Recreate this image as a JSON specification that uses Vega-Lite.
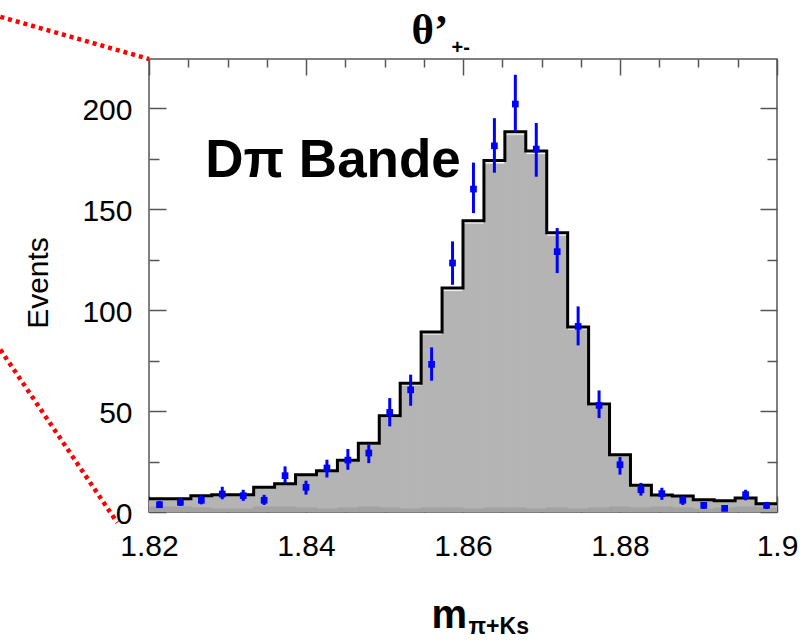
{
  "$schema": "https://vega.github.io/schema/vega-lite/v6.json",
  "width": 628,
  "height": 453,
  "autosize": {"type": "none"},
  "padding": {"left": 149, "top": 59, "right": 24, "bottom": 131},
  "background": "white",
  "config": {
    "view": {"stroke": "#555555", "strokeWidth": 1.5},
    "axis": {"tickColor": "#555555", "tickWidth": 1.5, "domain": false, "grid": false, "labelFont": "Liberation Sans", "titleFont": "Liberation Sans", "labelColor": "black", "titleColor": "black", "labelOverlap": false, "labelFlush": false}
  },
  "datasets": {
    "bins": [
      {"lo": 1.82, "hi": 1.822667, "c": 1.821333, "tot": 6.6, "fill": 6.0, "bkg": 2.5, "obs": 3.6, "elo": 2.0, "ehi": 5.5},
      {"lo": 1.822667, "hi": 1.825333, "c": 1.824, "tot": 6.6, "fill": 6.0, "bkg": 2.5, "obs": 4.8, "elo": 3.0, "ehi": 7.0},
      {"lo": 1.825333, "hi": 1.828, "c": 1.826667, "tot": 8.1, "fill": 7.5, "bkg": 2.0, "obs": 5.8, "elo": 3.8, "ehi": 8.2},
      {"lo": 1.828, "hi": 1.830667, "c": 1.829333, "tot": 8.6, "fill": 8.0, "bkg": 1.5, "obs": 8.9, "elo": 6.3, "ehi": 12.5},
      {"lo": 1.830667, "hi": 1.833333, "c": 1.832, "tot": 8.6, "fill": 8.0, "bkg": 1.5, "obs": 8.1, "elo": 5.5, "ehi": 11.0},
      {"lo": 1.833333, "hi": 1.836, "c": 1.834667, "tot": 12.2, "fill": 11.5, "bkg": 2.5, "obs": 5.8, "elo": 3.5, "ehi": 8.5},
      {"lo": 1.836, "hi": 1.838667, "c": 1.837333, "tot": 14.0, "fill": 13.3, "bkg": 2.5, "obs": 18.0, "elo": 14.3, "ehi": 22.6},
      {"lo": 1.838667, "hi": 1.841333, "c": 1.84, "tot": 18.5, "fill": 17.7, "bkg": 2.0, "obs": 12.2, "elo": 8.6, "ehi": 15.5},
      {"lo": 1.841333, "hi": 1.844, "c": 1.842667, "tot": 20.4, "fill": 19.6, "bkg": 1.5, "obs": 21.8, "elo": 17.1, "ehi": 25.9},
      {"lo": 1.844, "hi": 1.846667, "c": 1.845333, "tot": 25.6, "fill": 24.7, "bkg": 2.0, "obs": 25.7, "elo": 20.9, "ehi": 31.2},
      {"lo": 1.846667, "hi": 1.849333, "c": 1.848, "tot": 34.0, "fill": 33.0, "bkg": 2.5, "obs": 29.2, "elo": 24.2, "ehi": 33.3},
      {"lo": 1.849333, "hi": 1.852, "c": 1.850667, "tot": 47.7, "fill": 46.5, "bkg": 2.0, "obs": 49.3, "elo": 42.4, "ehi": 56.4},
      {"lo": 1.852, "hi": 1.854667, "c": 1.853333, "tot": 63.7, "fill": 62.4, "bkg": 1.5, "obs": 60.5, "elo": 52.6, "ehi": 68.0},
      {"lo": 1.854667, "hi": 1.857333, "c": 1.856, "tot": 89.1, "fill": 87.6, "bkg": 2.0, "obs": 73.1, "elo": 65.0, "ehi": 81.5},
      {"lo": 1.857333, "hi": 1.86, "c": 1.858667, "tot": 110.9, "fill": 109.3, "bkg": 2.0, "obs": 123.3, "elo": 112.5, "ehi": 134.0},
      {"lo": 1.86, "hi": 1.862667, "c": 1.861333, "tot": 144.2, "fill": 142.6, "bkg": 1.5, "obs": 159.9, "elo": 148.0, "ehi": 173.0},
      {"lo": 1.862667, "hi": 1.865333, "c": 1.864, "tot": 174.1, "fill": 172.3, "bkg": 2.0, "obs": 181.3, "elo": 168.0, "ehi": 195.0},
      {"lo": 1.865333, "hi": 1.868, "c": 1.866667, "tot": 188.3, "fill": 186.6, "bkg": 2.0, "obs": 202.0, "elo": 188.4, "ehi": 216.5},
      {"lo": 1.868, "hi": 1.870667, "c": 1.869333, "tot": 178.7, "fill": 177.0, "bkg": 1.5, "obs": 179.7, "elo": 166.0, "ehi": 192.6},
      {"lo": 1.870667, "hi": 1.873333, "c": 1.872, "tot": 138.3, "fill": 136.6, "bkg": 2.0, "obs": 128.9, "elo": 118.3, "ehi": 140.6},
      {"lo": 1.873333, "hi": 1.876, "c": 1.874667, "tot": 91.6, "fill": 90.1, "bkg": 1.5, "obs": 91.9, "elo": 82.5, "ehi": 101.8},
      {"lo": 1.876, "hi": 1.878667, "c": 1.877333, "tot": 53.5, "fill": 52.3, "bkg": 2.0, "obs": 52.8, "elo": 46.5, "ehi": 60.2},
      {"lo": 1.878667, "hi": 1.881333, "c": 1.88, "tot": 28.4, "fill": 27.5, "bkg": 2.5, "obs": 23.4, "elo": 18.5, "ehi": 27.2},
      {"lo": 1.881333, "hi": 1.884, "c": 1.882667, "tot": 13.2, "fill": 12.5, "bkg": 2.0, "obs": 11.0, "elo": 8.1, "ehi": 14.4},
      {"lo": 1.884, "hi": 1.886667, "c": 1.885333, "tot": 8.4, "fill": 7.8, "bkg": 2.5, "obs": 9.1, "elo": 6.0, "ehi": 12.0},
      {"lo": 1.886667, "hi": 1.889333, "c": 1.888, "tot": 7.9, "fill": 7.3, "bkg": 2.0, "obs": 5.8, "elo": 3.5, "ehi": 8.0},
      {"lo": 1.889333, "hi": 1.892, "c": 1.890667, "tot": 6.1, "fill": 5.5, "bkg": 1.5, "obs": 3.3, "elo": 1.5, "ehi": 5.0},
      {"lo": 1.892, "hi": 1.894667, "c": 1.893333, "tot": 5.6, "fill": 5.0, "bkg": 2.0, "obs": 1.8, "elo": 0.5, "ehi": 3.2},
      {"lo": 1.894667, "hi": 1.897333, "c": 1.896, "tot": 6.9, "fill": 6.3, "bkg": 2.5, "obs": 8.6, "elo": 5.8, "ehi": 11.0},
      {"lo": 1.897333, "hi": 1.9, "c": 1.898667, "tot": 4.1, "fill": 3.5, "bkg": 2.0, "obs": 3.3, "elo": 1.5, "ehi": 5.0}
    ],
    "edges": [
      {"m": 1.82, "n": 6.6}, {"m": 1.822667, "n": 6.6}, {"m": 1.825333, "n": 8.1}, {"m": 1.828, "n": 8.6},
      {"m": 1.830667, "n": 8.6}, {"m": 1.833333, "n": 12.2}, {"m": 1.836, "n": 14.0}, {"m": 1.838667, "n": 18.5},
      {"m": 1.841333, "n": 20.4}, {"m": 1.844, "n": 25.6}, {"m": 1.846667, "n": 34.0}, {"m": 1.849333, "n": 47.7},
      {"m": 1.852, "n": 63.7}, {"m": 1.854667, "n": 89.1}, {"m": 1.857333, "n": 110.9}, {"m": 1.86, "n": 144.2},
      {"m": 1.862667, "n": 174.1}, {"m": 1.865333, "n": 188.3}, {"m": 1.868, "n": 178.7}, {"m": 1.870667, "n": 138.3},
      {"m": 1.873333, "n": 91.6}, {"m": 1.876, "n": 53.5}, {"m": 1.878667, "n": 28.4}, {"m": 1.881333, "n": 13.2},
      {"m": 1.884, "n": 8.4}, {"m": 1.886667, "n": 7.9}, {"m": 1.889333, "n": 6.1}, {"m": 1.892, "n": 5.6},
      {"m": 1.894667, "n": 6.9}, {"m": 1.897333, "n": 4.1}, {"m": 1.9, "n": 4.1}
    ],
    "red": [
      {"seg": "a", "m": 1.80106, "n": 245.2},
      {"seg": "a", "m": 1.82, "n": 224.3},
      {"seg": "b", "m": 1.80106, "n": 80.4},
      {"seg": "b", "m": 1.81596, "n": -5.3}
    ],
    "note": [
      {"label": "Dπ Bande"}
    ]
  },
  "resolve": {"axis": {"x": "independent", "y": "independent"}},
  "layer": [
    {
      "data": {"name": "bins"},
      "mark": {"type": "rect", "color": "#b4b4b4", "stroke": "#b4b4b4", "strokeWidth": 1, "clip": true},
      "encoding": {
        "x": {"field": "lo", "type": "quantitative", "scale": {"domain": [1.82, 1.9], "nice": false, "zero": false},
          "axis": {"orient": "bottom", "values": [1.82, 1.84, 1.86, 1.88, 1.9], "format": "~g", "ticks": false, "labelPadding": 43, "labelBaseline": "alphabetic", "labelFontSize": 30, "labelAlign": "center",
            "title": "m", "titleFontSize": 40, "titleFontWeight": "bold", "titleX": 282, "titleY": 115, "titleAlign": "left", "titleBaseline": "alphabetic"}},
        "x2": {"field": "hi"},
        "y": {"field": "fill", "type": "quantitative", "scale": {"domain": [0, 224.3], "nice": false, "zero": true},
          "axis": {"orient": "left", "values": [0, 50, 100, 150, 200], "ticks": false, "labelPadding": 17, "labelFontSize": 30, "labelBaseline": "middle", "labelOffset": 2,
            "title": "Events", "titleFontSize": 30, "titleFontWeight": "normal", "titleAngle": -90, "titleX": -102, "titleY": 223.5, "titleAlign": "center", "titleBaseline": "alphabetic"}},
        "y2": {"datum": 0}
      }
    },
    {
      "data": {"name": "bins"},
      "mark": {"type": "rect", "color": "#a2a2a2", "stroke": "#a2a2a2", "strokeWidth": 1, "clip": true},
      "encoding": {
        "x": {"field": "lo", "type": "quantitative", "scale": {"domain": [1.82, 1.9], "nice": false, "zero": false},
          "axis": {"orient": "bottom", "values": [1.82, 1.84, 1.86, 1.88, 1.9], "tickSize": -16, "labels": false,
            "title": "π+Ks", "titleFontSize": 23, "titleFontWeight": "bold", "titleX": 319, "titleY": 121, "titleAlign": "left", "titleBaseline": "alphabetic"}},
        "x2": {"field": "hi"},
        "y": {"field": "bkg", "type": "quantitative", "scale": {"domain": [0, 224.3], "nice": false, "zero": true},
          "axis": {"orient": "left", "values": [0, 50, 100, 150, 200], "tickSize": -17, "labels": false, "title": null}},
        "y2": {"datum": 0}
      }
    },
    {
      "data": {"name": "edges"},
      "mark": {"type": "line", "interpolate": "step-after", "color": "black", "strokeWidth": 3, "clip": true},
      "encoding": {
        "x": {"field": "m", "type": "quantitative", "scale": {"domain": [1.82, 1.9], "nice": false, "zero": false},
          "axis": {"orient": "bottom", "values": [1.825, 1.83, 1.835, 1.845, 1.85, 1.855, 1.865, 1.87, 1.875, 1.885, 1.89, 1.895], "tickSize": -8, "labels": false, "title": null}},
        "y": {"field": "n", "type": "quantitative", "scale": {"domain": [0, 224.3], "nice": false, "zero": true},
          "axis": {"orient": "left", "values": [25, 75, 125, 175], "tickSize": -10, "labels": false, "title": null}}
      }
    },
    {
      "data": {"name": "bins"},
      "mark": {"type": "rule", "color": "#0000ff", "strokeWidth": 3, "clip": true},
      "encoding": {
        "x": {"field": "c", "type": "quantitative", "scale": {"domain": [1.82, 1.9], "nice": false, "zero": false},
          "axis": {"orient": "top", "values": [1.82, 1.84, 1.86, 1.88, 1.9], "tickSize": -16, "labels": false,
            "title": "θ’", "titleFont": "Liberation Serif", "titleFontSize": 43, "titleFontWeight": "bold", "titleX": 262, "titleY": -16, "titleAlign": "left", "titleBaseline": "alphabetic"}},
        "y": {"field": "elo", "type": "quantitative", "scale": {"domain": [0, 224.3], "nice": false, "zero": true},
          "axis": {"orient": "right", "values": [0, 50, 100, 150, 200], "tickSize": -17, "labels": false, "title": null}},
        "y2": {"field": "ehi"}
      }
    },
    {
      "data": {"name": "bins"},
      "mark": {"type": "square", "color": "#0000ff", "filled": true, "opacity": 1, "size": 45, "clip": true},
      "encoding": {
        "x": {"field": "c", "type": "quantitative", "scale": {"domain": [1.82, 1.9], "nice": false, "zero": false},
          "axis": {"orient": "top", "values": [1.825, 1.83, 1.835, 1.845, 1.85, 1.855, 1.865, 1.87, 1.875, 1.885, 1.89, 1.895], "tickSize": -8, "labels": false,
            "title": "+-", "titleFontSize": 20, "titleFontWeight": "bold", "titleX": 302, "titleY": -6, "titleAlign": "left", "titleBaseline": "alphabetic"}},
        "y": {"field": "obs", "type": "quantitative", "scale": {"domain": [0, 224.3], "nice": false, "zero": true},
          "axis": {"orient": "right", "values": [25, 75, 125, 175], "tickSize": -10, "labels": false, "title": null}}
      }
    },
    {
      "data": {"name": "note"},
      "mark": {"type": "text", "font": "Liberation Sans", "fontSize": 53, "fontWeight": "bold", "align": "left", "baseline": "alphabetic", "color": "black"},
      "encoding": {
        "text": {"field": "label", "type": "nominal"},
        "x": {"datum": 1.82717, "type": "quantitative", "scale": {"domain": [1.82, 1.9], "nice": false, "zero": false}, "axis": null},
        "y": {"datum": 165.7, "type": "quantitative", "scale": {"domain": [0, 224.3], "nice": false, "zero": true}, "axis": null}
      }
    },
    {
      "data": {"name": "red"},
      "mark": {"type": "line", "color": "#ff0000", "strokeWidth": 4.5, "strokeDash": [4, 4], "strokeCap": "butt", "clip": false},
      "encoding": {
        "x": {"field": "m", "type": "quantitative", "scale": {"domain": [1.82, 1.9], "nice": false, "zero": false}, "axis": null},
        "y": {"field": "n", "type": "quantitative", "scale": {"domain": [0, 224.3], "nice": false, "zero": true}, "axis": null},
        "detail": {"field": "seg", "type": "nominal"}
      }
    }
  ]
}
